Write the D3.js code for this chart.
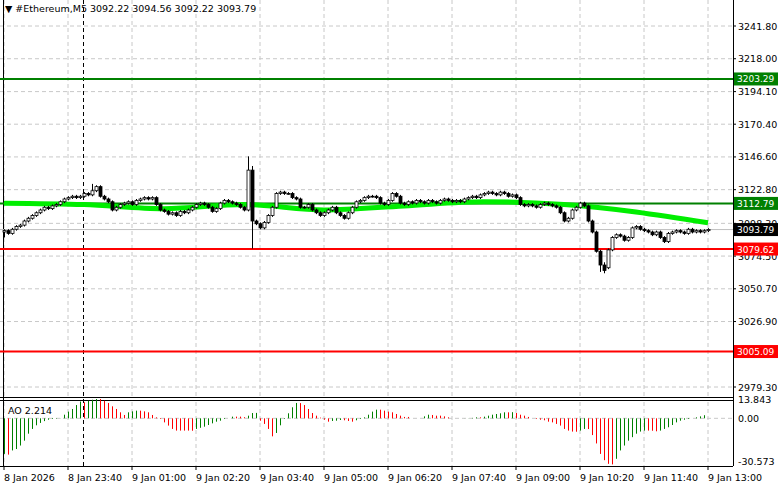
<!DOCTYPE html><html><head><meta charset="utf-8"><script src="https://cdn.jsdelivr.net/npm/d3@7"></script>
<style>body{margin:0;background:#fff}svg{font-family:"DejaVu Sans",Arial,sans-serif}</style></head><body><svg id="c" width="781" height="489"></svg>
<script>
const closes=[3093,3091,3094,3096,3097,3100,3102,3104,3106,
3108,3110,3109,3111,3112,3114,3116,3117,3118,3117,
3118,3120,3119,3122,3125,3118,
3116,3114,3108,3110,3112,3113,3114,3112,3115,3116,3117,
3116,3117,3112,3108,3107,3105,3106,3104,3107,3106,
3108,3110,3112,3113,3112,3110,3107,3109,3113,3115,
3114,3113,3112,3110,3108,
3137,3100,3098,
3095,3099,3104,3110,3120,3121,3120,
3120,3117,3116,3110,3110,3112,
3108,3106,3104,3106,3108,3110,3106,3104,3102,3106,
3110,3114,3115,3117,3118,3118,3117,3113,3112,3115,
3120,3118,3113,3112,3114,3113,3115,
3114,3113,3115,3114,3113,3115,3116,3115,3114,3115,3114,3116,3117,3118,3117,3119,3120,
3121,3120,3119,3121,3120,3118,3119,3117,
3112,3111,3112,3111,3110,3112,3113,3112,3111,3110,
3106,3100,3102,3108,3110,3113,3111,
3100,3092,3078,3068,3064,
3079,3088,
3090,3089,3086,3088,3095,3096,3094,3093,3092,3090,3092,3088,3085,3091,3092,3093,3092,3091,3094,3092,3093,3092,3093,3093.79];
const openOverride={61:3108,151:3066};
const highOverride={22:3127,61:3147,62:3140,150:3070};
const lowOverride={0:3088,62:3080,150:3062,149:3063};
const maBars=[0,20,40,60,80,100,120,140,176];
const maVals=[3113,3112,3109,3112,3108,3111,3114,3112,3098.7];
const aoVals=[-25.5,-26,-23,-22,-19.5,-16,-11,-7.6,-5,-3.3,-2,-1,-0.5,-0.3,0.1,2.6,4.8,6.7,9.5,12,11.5,12.6,13.3,13.8,13.8,12.6,11,8.6,6.7,4.3,2.4,4.3,5,5.5,5.5,5,4.3,2.4,0.7,-0.5,-2.9,-5.2,-7.6,-8.8,-8.8,-8.8,-8.8,-8.9,-7.6,-6.8,-6,-4.8,-3.6,-2.4,-1.7,-0.5,0,1.2,1.2,1.2,0.8,1.9,3.8,3.9,-1.7,-4,-7.6,-12.9,-10.5,-5,-0.5,3.6,7.9,11,10.9,9.5,6.7,3.8,1.9,0.5,-1,-2.4,-1.9,-1.7,-1.2,-1.4,-1.9,-2.4,-1.4,-0.5,0.7,2.6,4.8,6.2,6.2,5.5,4.8,4.3,3.1,1.9,1,1,0,0,0,1.4,2.6,2.4,1.9,1.9,1.4,0.7,0,0,0,0.05,0.1,0.3,0.7,0.7,1.2,1.9,2.6,3.1,3.6,4.3,4.3,4.4,3.8,2.6,1.9,1,0,-0.5,-1,-1.4,-2.4,-2.9,-4,-5.2,-7.6,-8.8,-9.5,-9.6,-8.8,-7.6,-7.7,-12,-18,-25.5,-30,-32.6,-33,-29,-23,-19.5,-16,-13.5,-11,-9.5,-8.8,-8.8,-8.9,-9.3,-8.8,-7.6,-6.4,-4.8,-2.9,-1.7,-1,-0.5,0,0.7,1.4,2.214];
const xLabels=["8 Jan 2026","8 Jan 23:40","9 Jan 01:00","9 Jan 02:20","9 Jan 03:40","9 Jan 05:00","9 Jan 06:20","9 Jan 07:40","9 Jan 09:00","9 Jan 10:20","9 Jan 11:40","9 Jan 13:00"];
const priceTicks=[3241.80,3218.00,3194.10,3170.40,3146.60,3122.80,3098.30,3074.50,3050.70,3026.90,2979.30];
const levels=[{v:3203.29,c:"#008000"},{v:3112.79,c:"#008000"},{v:3079.62,c:"#ff0000"},{v:3005.09,c:"#ff0000"}];
const lastPrice=3093.79;

const svg=d3.select("#c");
const R=733;
const x=d3.scaleLinear().domain([0,176]).range([4,708]);
const y=d3.scaleLinear().domain([2979.3,3241.8]).range([387,26]);
const ya=d3.scaleLinear().domain([-30.573,13.843]).range([461,399]);
const bars=closes.map((c,i)=>{const o=openOverride[i]!==undefined?openOverride[i]:(i?closes[i-1]:3092);
return {i,o,c,h:highOverride[i]!==undefined?highOverride[i]:Math.max(o,c)+1,l:lowOverride[i]!==undefined?lowOverride[i]:Math.min(o,c)-1};});
const g=svg.append("g").attr("stroke","#c8c8c8").attr("stroke-dasharray","4,3");
xLabels.forEach((t,k)=>{const xx=x(k*16);g.append("line").attr("x1",xx).attr("x2",xx).attr("y1",0).attr("y2",396);g.append("line").attr("x1",xx).attr("x2",xx).attr("y1",402).attr("y2",466);});
priceTicks.forEach(p=>g.append("line").attr("x1",0).attr("x2",R).attr("y1",y(p)).attr("y2",y(p)));
g.append("line").attr("x1",0).attr("x2",R).attr("y1",ya(0)).attr("y2",ya(0));
svg.append("line").attr("x1",R+0.5).attr("x2",R+0.5).attr("y1",0).attr("y2",466).attr("stroke","#000");
svg.append("line").attr("x1",3.5).attr("x2",3.5).attr("y1",0).attr("y2",466).attr("stroke","#000");
svg.append("line").attr("x1",0).attr("x2",R).attr("y1",397.5).attr("y2",397.5).attr("stroke","#000");
svg.append("line").attr("x1",0).attr("x2",R).attr("y1",400.5).attr("y2",400.5).attr("stroke","#000");
svg.append("line").attr("x1",0).attr("x2",R).attr("y1",466.5).attr("y2",466.5).attr("stroke","#000");
svg.append("line").attr("x1",83.5).attr("x2",83.5).attr("y1",0).attr("y2",466).attr("stroke","#000").attr("stroke-dasharray","4,3");
svg.append("line").attr("x1",0).attr("x2",R).attr("y1",y(lastPrice)).attr("y2",y(lastPrice)).attr("stroke","#c0c0c0");
levels.forEach(l=>svg.append("line").attr("x1",0).attr("x2",R).attr("y1",y(l.v)).attr("y2",y(l.v)).attr("stroke",l.c).attr("stroke-width",2));
const maPts=maBars.map((b,k)=>[b,maVals[k]]);
svg.append("path").attr("d",d3.line().x(d=>x(d[0])).y(d=>y(d[1])).curve(d3.curveMonotoneX)(maPts)).attr("fill","none").attr("stroke","#00ee00").attr("stroke-width",5);
const cg=svg.append("g");
bars.forEach(b=>{const xx=Math.round(x(b.i))+0.5;
cg.append("line").attr("x1",xx).attr("x2",xx).attr("y1",y(b.h)).attr("y2",y(b.l)).attr("stroke","#000");
const t=y(Math.max(b.o,b.c)),bt=y(Math.min(b.o,b.c));
cg.append("rect").attr("x",xx-1.5).attr("y",t).attr("width",3).attr("height",Math.max(bt-t,0.8)).attr("fill",b.c>=b.o?"#fff":"#000").attr("stroke","#000").attr("stroke-width",0.8);});
aoVals.forEach((v,i)=>{const xx=Math.round(x(i))+0.5;svg.append("line").attr("x1",xx).attr("x2",xx).attr("y1",ya(0)).attr("y2",ya(v)).attr("stroke",(i===0||v>aoVals[i-1])?"#008000":"#ff0000");});
const ax=svg.append("g").attr("font-size",9.5).attr("fill","#000");
priceTicks.forEach(p=>{ax.append("line").attr("x1",R).attr("x2",R+3).attr("y1",y(p)).attr("y2",y(p)).attr("stroke","#000");ax.append("text").attr("x",738).attr("y",y(p)+3.5).text(p.toFixed(2));});
[{v:13.843,t:"13.843"},{v:0,t:"0.00"},{v:-30.573,t:"-30.573"}].forEach(d=>ax.append("text").attr("x",738).attr("y",ya(d.v)+3.5).text(d.t));
function tag(v,bg){const yy=y(v);svg.append("rect").attr("x",734).attr("y",yy-6.5).attr("width",44).attr("height",13).attr("fill",bg);svg.append("text").attr("x",737).attr("y",yy+3.5).attr("font-size",9).attr("fill","#fff").text(v.toFixed(2));}
levels.forEach(l=>tag(l.v,l.c));tag(lastPrice,"#000");
xLabels.forEach((t,k)=>{const xx=x(k*16);ax.append("line").attr("x1",xx).attr("x2",xx).attr("y1",466).attr("y2",470).attr("stroke","#000");ax.append("text").attr("x",xx).attr("y",481).text(t);});
svg.append("text").attr("x",5).attr("y",12).attr("font-size",9.5).text("▼ #Ethereum,M5  3092.22 3094.56 3092.22 3093.79");
svg.append("text").attr("x",8).attr("y",414).attr("font-size",9.5).text("AO 2.214");
</script></body></html>
